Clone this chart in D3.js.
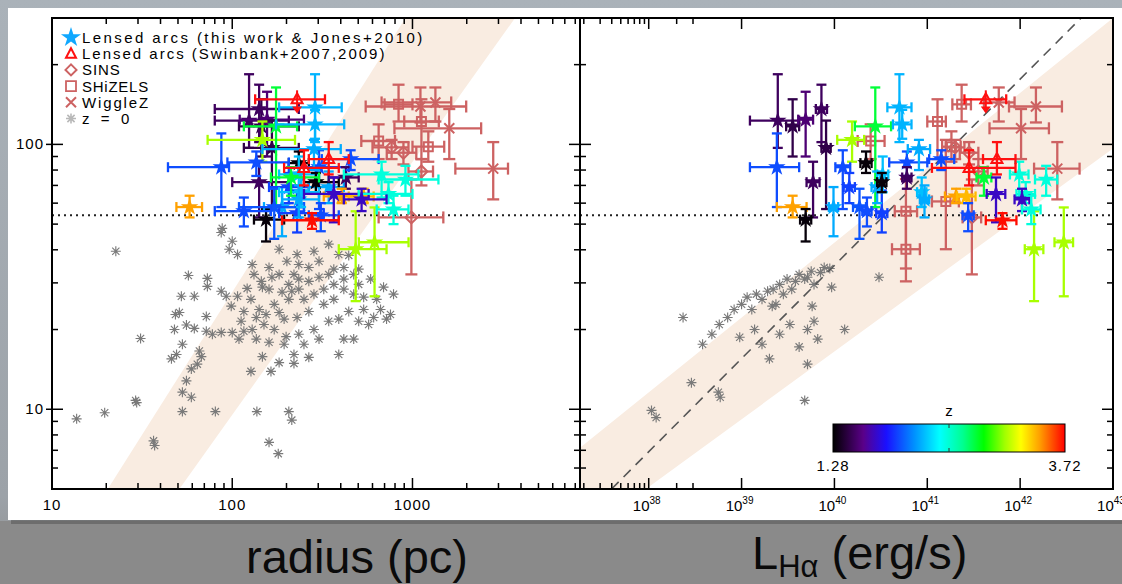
<!DOCTYPE html>
<html><head><meta charset="utf-8">
<script src="https://cdn.jsdelivr.net/npm/d3@7"></script>
<style>html,body{margin:0;padding:0;background:#8c8c8c;}svg{display:block}</style>
</head><body><svg id="c" width="1122" height="584"></svg>
<script>
// ---------------- DATA ----------------
// Lensed arcs: [z, sigma, sigmaLo, sigmaHi, radius(pc), radiusLo, radiusHi, logL, logLLo, logLHi]
const lensedArcs = [
 [1.50,123,97,184,124,80,206,39.39,39.09,39.62],
 [1.45,117,90,148,145,109,234,39.55,39.48,39.62],
 [1.55,124,90,158,156,110,250,39.69,39.61,39.77],
 [1.50,136,102,168,141,80,234,39.86,39.80,39.92],
 [1.45,97,57,123,166,116,234,39.91,39.86,39.96],
 [1.50,72,53,86,141,100,206,39.77,39.70,39.84],
 [1.98,82,58,110,87,44,96,39.38,39.09,39.62],
 [3.45,58,53,64,58,49,68,39.55,39.38,39.70],
 [1.30,52,43,57,154,132,194,39.69,39.63,39.75],
 [3.10,104,86,122,147,73,223,40.19,40.03,40.32],
 [1.30,85,78,94,234,206,266,40.34,40.28,40.40],
 [2.78,117,58,164,175,116,229,40.44,40.22,40.61],
 [2.20,58,45,69,189,150,250,39.99,39.94,40.04],
 [1.98,82,57,95,303,206,443,40.09,40.01,40.17],
 [1.95,69,60,78,206,160,266,40.16,40.10,40.22],
 [2.00,58,44,68,171,109,250,40.27,40.20,40.34],
 [1.98,56,49,63,116,80,164,40.35,40.30,40.40],
 [1.95,55,46.5,67,229,182,322,40.51,40.45,40.57],
 [2.20,69,60,79,343,266,416,40.46,40.40,40.52],
 [2.25,77,66,90,234,182,303,40.52,40.46,40.58],
 [1.30,72,66,78,291,250,390,40.51,40.46,40.56],
 [2.22,138,102,184,288,182,405,40.70,40.57,40.83],
 [2.22,119,105,135,288,175,418,40.73,40.63,40.83],
 [1.98,85.5,76,94,136,94,206,40.78,40.59,41.00],
 [1.50,75,68,82,427,343,503,40.78,40.73,40.83],
 [2.20,96,80,104,284,147,400,40.91,40.79,41.03],
 [2.25,66,58,75,241,182,303,40.94,40.89,40.99],
 [2.20,62,53,70,234,189,303,40.97,40.92,41.02],
 [1.98,88,80,95,454,314,649,41.15,41.02,41.29],
 [3.45,63.6,60,68,405,322,503,41.31,41.19,41.43],
 [3.40,63.6,60,68,536,443,609,41.42,41.32,41.52],
 [1.98,54,47,60,310,266,390,41.44,41.38,41.50],
 [2.78,75,64,82,212,164,303,41.61,41.53,41.69],
 [1.72,65,50.8,75,366,250,571,41.74,41.64,41.84],
 [3.70,51.7,48,55,277,189,390,41.81,41.63,41.96],
 [2.48,77,63,86,674,416,1079,41.99,41.89,42.09],
 [2.48,65,60,72,736,503,1000,42.06,41.96,42.16],
 [2.48,73.7,64,83,914,649,1393,42.28,42.16,42.40],
 [3.10,40.2,25.6,55.9,484,390,718,42.15,42.05,42.25],
 [3.10,42.7,26.7,57.8,616,504,951,42.47,42.37,42.57],
 [1.72,62,56,68,522,416,718,42.02,41.94,42.10],
 [2.48,56.8,50,64,785,633,950,42.12,42.02,42.22]
];
// Swinbank arcs: [sigma, lo, hi, radius, rLo, rHi, logL, lLo, lHi, isLimit]
const swinbankArcs = [
 [148,133,160,229,134,327,41.63,41.40,41.85,1],
 [81.5,70,95,250,194,390,41.45,41.05,41.95,0],
 [88,77,102,343,266,443,41.75,41.60,41.95,0]
];
// SINS: [sigma, lo, hi, radius, rLo, rHi, logL, lLo, lHi]
const sins = [
 [97.4,88,104,766,600,950,41.30,41.20,41.40],
 [93,84,102,891,720,1050,41.45,41.35,41.55],
 [53,32.3,73.7,986,649,1483,41.48,41.38,41.58],
 [79,70,88,1121,950,1300,41.55,41.45,41.65]
];
// SHiZELS: [sigma, lo, hi, radius, rLo, rHi, logL, lLo, lHi]
const shizels = [
 [141.6,122,168,837,700,1000,41.37,41.27,41.47],
 [122,88,148,1121,900,1400,41.11,41.00,41.20],
 [103,88,119,649,520,800,40.39,40.25,40.54],
 [55.9,34,74,null,null,null,40.77,40.65,40.89],
 [40.2,30.4,55.9,null,null,null,40.77,40.62,40.92],
 [60.9,40.2,104,null,null,null,41.20,41.05,41.34],
 [98,86,112,1224,1000,1500,41.26,41.16,41.36]
];
// WiggleZ: [sigma, lo, hi, radius, rLo, rHi, logL, lLo, lHi]
const wigglez = [
 [139,121,164,1107,550,1986,42.17,41.88,42.45],
 [144,122,164,1340,674,1640,41.77,41.61,41.94],
 [115,88,136,1600,794,2404,42.01,41.67,42.31],
 [81,62,102,2805,1729,3388,42.40,42.15,42.64]
];
// z = 0 sample: [radius, sigma]
const z0Radius = [[22.6,39.5],[57.1,32.0],[72.8,31.2],[72.8,29.1],[52.2,26.7],[61.6,26.7],[86.9,27.9],[92.6,26.7],[107,26.7],[98.7,24.5],[48.4,22.8],[50.9,23.2],[55.7,20.8],[47.8,20.0],[71.8,22.4],[61.6,20.2],[71.8,19.7],[77.6,19.2],[86.9,19.5],[100,19.5],[116,19.7],[129,20.0],[52.9,17.6],[49.1,16.1],[46.0,15.5],[65.7,16.6],[67.4,15.8],[59.3,14.2],[64.0,14.8],[55.7,12.8],[52.9,11.6],[59.3,11.1],[31.0,18.5],[29.1,10.8],[36.6,7.6],[88.0,48.2],[86.9,46.5],[100,43.1],[96.2,40.2],[107,38.4],[129,35.2],[132,32.3],[166,31.5],[201,36.2],[121,28.6],[147,28.9],[160,28.4],[189,27.7],[214,27.9],[141,23.8],[154,22.8],[182,23.2],[206,26.0],[136,22.2],[109,18.4],[136,18.4],[160,17.9],[199,18.8],[147,15.8],[182,15.0],[220,14.9],[127,13.9],[164,13.9],[13.7,9.2],[19.6,9.7],[29.5,10.6],[37.1,7.3],[52.9,9.8],[80.6,9.8],[137,9.8],[206,9.8],[214,9.1],[160,7.5],[180,6.8],[234,35.2],[266,34.3],[303,36.2],[366,33.8],[416,34.3],[472,32.3],[586,31.0],[691,28.9],[785,27.2],[633,26.0],[536,23.8],[443,23.4],[390,21.9],[343,21.5],[284,20.0],[234,19.2],[250,17.6],[303,18.4],[416,18.4],[503,21.5],[609,22.2],[718,21.9],[250,26.0],[284,27.2],[322,28.4],[366,29.6],[416,28.4],[472,27.2],[322,24.9],[366,26.0],[266,23.4],[229,22.2],[194,21.9],[234,31.0],[206,29.6],[266,30.4],[303,31.5],[343,32.3],[416,31.0],[503,29.6],[182,32.3],[160,34.3],[145,30.4],[171,24.9],[127,26.0],[116,23.4],[112,21.5],[150,20.9],[171,20.0],[194,17.6],[220,16.1],[266,15.7],[390,16.1],[472,18.4],[571,20.9],[665,23.8],[755,22.8],[503,33.8],[443,38.1],[390,38.4],[284,39.5],[343,42.0],[229,38.4],[182,40.2],[536,26.5],[234,28.4],[220,32.3]];
// z = 0 sample: [logL, sigma]
const z0Lum = [[38.03,9.9],[38.08,9.3],[38.37,22.2],[38.46,12.6],[38.75,11.6],[38.77,11.1],[39.68,10.8],[38.58,17.6],[38.68,19.2],[38.76,20.9],[38.85,22.2],[38.92,23.8],[39.00,24.9],[39.06,26.5],[39.11,23.8],[39.16,27.2],[39.22,26.0],[39.28,27.9],[39.34,28.4],[39.37,24.9],[39.41,29.6],[39.45,27.2],[39.49,31.0],[39.54,28.4],[39.58,30.4],[39.62,32.3],[39.68,31.0],[39.71,31.5],[39.75,33.2],[39.78,29.6],[39.85,32.8],[39.89,34.3],[39.95,34.0],[39.97,28.9],[38.98,18.7],[39.14,20.0],[39.22,17.6],[39.30,15.5],[39.41,19.2],[39.52,20.9],[39.62,17.2],[39.71,20.0],[39.78,21.5],[39.82,18.4],[39.71,14.8],[39.33,24.5],[39.76,24.5],[40.48,31.5],[40.11,20.0]];
// Shaded relation bands (edges, data coords)
const bandRadius = [[20.4,5],[914,300],[3707,300],[50.9,5]];
const bandLum = [[37.0,5.4],[37.27,7.2],[43.0,300],[43.2,300],[43.2,98.3],[43.03,98.3],[37.97,5],[37.0,5]];
const dashedLum = [[37.6,5],[42.656,300]];
const sigmaThreshold = 54;
// ticks
const yMajor = [10,100], yMinor = [6,7,8,9,20,30,40,50,60,70,80,90,200,300];
const rMajor = [10,100,1000], rMinor = [20,30,40,50,60,70,80,90,200,300,400,500,600,700,800,900,2000,3000,4000,5000,6000,7000,8000];
const lMajor = [38,39,40,41,42,43];
const lMinor = [37.301,37.477,37.602,37.699,37.778,37.845,37.903,37.954,38.301,38.477];
const legendLabels = ['Lensed arcs (this work & Jones+2010)','Lensed arcs (Swinbank+2007,2009)','SINS','SHiZELS','WiggleZ','z = 0'];
const zRange = [1.28, 3.72];
const cmapStops = [[0,'#000000'],[0.13,'#5a0088'],[0.23,'#1a10ff'],[0.35,'#0090ff'],[0.46,'#00ffff'],[0.56,'#00ff90'],[0.65,'#00ff00'],[0.74,'#a0ff00'],[0.81,'#ffff00'],[0.89,'#ffa000'],[1,'#ff0000']];

// ---------------- DRAW ----------------
const W=1122,H=584, TOP=18, BOT=489, L0=52, MID=580, R1=1113;
const svg=d3.select('#c');
const defs=svg.append('defs');
const bg=defs.append('linearGradient').attr('id','bg').attr('x1',0).attr('y1',0).attr('x2',0).attr('y2',1);
bg.append('stop').attr('offset','0%').attr('stop-color','#aab2b9');
bg.append('stop').attr('offset','85%').attr('stop-color','#9ca2a8');
bg.append('stop').attr('offset','100%').attr('stop-color','#8e8e8e');
svg.append('rect').attr('width',W).attr('height',H).attr('fill','url(#bg)');
svg.append('rect').attr('x',0).attr('y',521).attr('width',W).attr('height',63).attr('fill','#8a8a8a');
svg.append('rect').attr('x',11).attr('y',12).attr('width',W).attr('height',512).attr('fill','#555').attr('opacity',0.55);
svg.append('rect').attr('x',8).attr('y',8).attr('width',W).attr('height',512).attr('fill','#fff');

const y=d3.scaleLog().domain([5,300]).range([BOT,TOP]);
const xL=d3.scaleLog().domain([10,8500]).range([L0,MID]);
const xR=d3.scaleLog().domain([Math.pow(10,37.26),1e43]).range([MID,R1]);
const Lx = v=>xR(Math.pow(10,v));
const zc=d3.scaleLinear().domain(cmapStops.map(s=>zRange[0]+s[0]*(zRange[1]-zRange[0]))).range(cmapStops.map(s=>s[1])).interpolate(d3.interpolateRgb).clamp(true);

defs.append('clipPath').attr('id','cl').append('rect').attr('x',L0).attr('y',TOP).attr('width',MID-L0).attr('height',BOT-TOP);
defs.append('clipPath').attr('id','cr').append('rect').attr('x',MID).attr('y',TOP).attr('width',R1-MID).attr('height',BOT-TOP);
const gL=svg.append('g').attr('clip-path','url(#cl)');
const gR=svg.append('g').attr('clip-path','url(#cr)');

const BAND='#f9ece1';
gL.append('path').attr('d',d3.line().x(d=>xL(d[0])).y(d=>y(d[1]))(bandRadius)+'Z').attr('fill',BAND);
gR.append('path').attr('d',d3.line().x(d=>Lx(d[0])).y(d=>y(d[1]))(bandLum)+'Z').attr('fill',BAND);

const ast='M-5,0H5M0,-5V5M-3.6,-3.6L3.6,3.6M-3.6,3.6L3.6,-3.6';
gL.selectAll('path.a').data(z0Radius).join('path').attr('class','a').attr('d',ast)
  .attr('transform',d=>`translate(${xL(d[0])},${y(d[1])})`).attr('stroke','#7a7a7a').attr('stroke-width',1.15).attr('fill','none');
gR.selectAll('path.a').data(z0Lum).join('path').attr('class','a').attr('d',ast)
  .attr('transform',d=>`translate(${Lx(d[0])},${y(d[1])})`).attr('stroke','#7a7a7a').attr('stroke-width',1.15).attr('fill','none');

// dotted threshold
[[gL,L0,MID],[gR,MID,R1]].forEach(([g,a,b])=>g.append('line').attr('x1',a).attr('x2',b).attr('y1',y(sigmaThreshold)).attr('y2',y(sigmaThreshold))
  .attr('stroke','#222').attr('stroke-width',2).attr('stroke-dasharray','2,4'));
// dashed line
gR.append('line').attr('x1',Lx(dashedLum[0][0])).attr('y1',y(dashedLum[0][1])).attr('x2',Lx(dashedLum[1][0])).attr('y2',y(dashedLum[1][1]))
  .attr('stroke','#555').attr('stroke-width',1.6).attr('stroke-dasharray','10,7');

function errb(g,cx,cy,x0,x1,y0,y1,color,cap){
  cap=cap||5;
  const e=g.append('g').attr('stroke',color).attr('stroke-width',2.3).attr('fill','none');
  if(x0!=null){
    e.append('line').attr('x1',x0).attr('x2',x1).attr('y1',cy).attr('y2',cy);
    [x0,x1].forEach(x=>e.append('line').attr('x1',x).attr('x2',x).attr('y1',cy-cap).attr('y2',cy+cap));
  }
  if(y0!=null){
    e.append('line').attr('x1',cx).attr('x2',cx).attr('y1',y0).attr('y2',y1);
    [y0,y1].forEach(v=>e.append('line').attr('x1',cx-cap).attr('x2',cx+cap).attr('y1',v).attr('y2',v));
  }
}
const IR='#cd6262';
const sqPath='M-4.5,-4.5H4.5V4.5H-4.5Z', diaPath='M0,-6L6,0L0,6L-6,0Z', xPath='M-5,-5L5,5M-5,5L5,-5', triPath='M0,-6L5.5,4L-5.5,4Z';
function other(list,path){
  list.forEach(d=>{
    if(d[3]!=null){
      const cx=xL(d[3]),cy=y(d[0]);
      errb(gL,cx,cy,xL(d[4]),xL(d[5]),y(d[2]),y(d[1]),IR,6);
      gL.append('path').attr('d',path).attr('transform',`translate(${cx},${cy})`).attr('stroke',IR).attr('stroke-width',2).attr('fill','none');
    }
    const cx=Lx(d[6]),cy=y(d[0]);
    errb(gR,cx,cy,Lx(d[7]),Lx(d[8]),y(d[2]),y(d[1]),IR,6);
    gR.append('path').attr('d',path).attr('transform',`translate(${cx},${cy})`).attr('stroke',IR).attr('stroke-width',2).attr('fill','none');
  });
}
other(wigglez,xPath);
other(shizels,sqPath);
other(sins,diaPath);

const star=d3.symbol(d3.symbolStar,95)();
lensedArcs.forEach(d=>{
  const c=zc(d[0]);
  let cx=xL(d[4]),cy=y(d[1]);
  errb(gL,cx,cy,xL(d[5]),xL(d[6]),y(d[3]),y(d[2]),c);
  gL.append('path').attr('d',star).attr('transform',`translate(${cx},${cy})`).attr('fill',c);
  cx=Lx(d[7]);
  errb(gR,cx,cy,Lx(d[8]),Lx(d[9]),y(d[3]),y(d[2]),c);
  gR.append('path').attr('d',star).attr('transform',`translate(${cx},${cy})`).attr('fill',c);
});
const RED='#ff1010';
swinbankArcs.forEach(d=>{
  [[gL,xL(d[3]),xL(d[4]),xL(d[5])],[gR,Lx(d[6]),Lx(d[7]),Lx(d[8])]].forEach(([g,cx,a,b])=>{
    const cy=y(d[0]);
    if(d[9]){
      errb(g,cx,cy,a,b,null,null,RED);
      g.append('line').attr('x1',cx).attr('x2',cx).attr('y1',y(d[2])).attr('y2',y(d[1])).attr('stroke',RED).attr('stroke-width',2);
      g.append('path').attr('d',`M${cx-5},${y(d[1])-5}L${cx+5},${y(d[1])-5}L${cx},${y(d[1])+2}Z`).attr('fill',RED);
    } else errb(g,cx,cy,a,b,y(d[2]),y(d[1]),RED);
    g.append('path').attr('d',triPath).attr('transform',`translate(${cx},${cy})`).attr('stroke',RED).attr('stroke-width',2).attr('fill','none');
  });
});

// frames & ticks
const ax=svg.append('g').attr('stroke','#000').attr('fill','none');
ax.append('rect').attr('x',L0).attr('y',TOP).attr('width',R1-L0).attr('height',BOT-TOP).attr('stroke-width',2);
ax.append('line').attr('x1',MID).attr('x2',MID).attr('y1',TOP).attr('y2',BOT).attr('stroke-width',2);
function xt(vals,f,len){vals.forEach(v=>{const x=f(v);
  ax.append('line').attr('x1',x).attr('x2',x).attr('y1',BOT).attr('y2',BOT-len).attr('stroke-width',1.5);
  ax.append('line').attr('x1',x).attr('x2',x).attr('y1',TOP).attr('y2',TOP+len).attr('stroke-width',1.5);});}
xt(rMajor,xL,11); xt(rMinor,xL,6); xt(lMajor,Lx,11); xt(lMinor,Lx,6);
function yt(x0,dir){yMajor.forEach(v=>ax.append('line').attr('x1',x0).attr('x2',x0+dir*11).attr('y1',y(v)).attr('y2',y(v)).attr('stroke-width',1.5));
  yMinor.forEach(v=>ax.append('line').attr('x1',x0).attr('x2',x0+dir*6).attr('y1',y(v)).attr('y2',y(v)).attr('stroke-width',1.5));}
yt(L0,1); yt(MID,-1); yt(MID,1); yt(R1,-1);
yMajor.forEach(v=>ax.append('line').attr('x1',L0).attr('x2',L0-6).attr('y1',y(v)).attr('y2',y(v)).attr('stroke-width',1.5));

const FONT='"Liberation Sans", Arial, sans-serif';
const tl=svg.append('g').attr('font-family',FONT).attr('fill','#000');
yMajor.forEach(v=>tl.append('text').attr('x',44).attr('y',y(v)+5).attr('text-anchor','end').attr('font-size',15).attr('letter-spacing',1).text(d3.format('d')(v)));
rMajor.forEach(v=>tl.append('text').attr('x',xL(v)).attr('y',510).attr('text-anchor','middle').attr('font-size',15).attr('letter-spacing',1).text(d3.format('d')(v)));
lMajor.forEach(v=>{const t=tl.append('text').attr('x',Lx(v)-2).attr('y',511).attr('text-anchor','middle').attr('font-size',15);
  t.append('tspan').text('10'); t.append('tspan').attr('font-size',10).attr('dy',-7).text(v);});

// legend
const lg=svg.append('g').attr('font-family',FONT);
const syms=[
 g=>g.append('path').attr('d',d3.symbol(d3.symbolStar,125)()).attr('fill','#10a8ff'),
 g=>g.append('path').attr('d','M0,-5.5L5,4L-5,4Z').attr('stroke',RED).attr('stroke-width',2).attr('fill','none'),
 g=>g.append('path').attr('d','M0,-5.5L5.5,0L0,5.5L-5.5,0Z').attr('stroke',IR).attr('stroke-width',2).attr('fill','none'),
 g=>g.append('path').attr('d','M-5,-5H5V5H-5Z').attr('stroke',IR).attr('stroke-width',1.8).attr('fill','none'),
 g=>g.append('path').attr('d','M-5,-5L5,5M-5,5L5,-5').attr('stroke',IR).attr('stroke-width',2).attr('fill','none'),
 g=>g.append('path').attr('d',ast).attr('stroke','#b8b8b8').attr('stroke-width',1.6).attr('fill','none')
];
legendLabels.forEach((t,i)=>{
  const yy=37.5+i*16.2;
  syms[i](lg.append('g').attr('transform',`translate(71,${yy})`));
  lg.append('text').attr('x',82).attr('y',yy+5.5).attr('font-size',15).attr('textLength',t.length*9.45).attr('lengthAdjust','spacing').text(t);
});

// colorbar
const cg=defs.append('linearGradient').attr('id','cmap');
cmapStops.forEach(s=>cg.append('stop').attr('offset',(s[0]*100)+'%').attr('stop-color',s[1]));
svg.append('rect').attr('x',833).attr('y',424).attr('width',232).attr('height',28).attr('fill','url(#cmap)').attr('stroke','#000').attr('stroke-width',1);
svg.append('line').attr('x1',949).attr('x2',949).attr('y1',424).attr('y2',428).attr('stroke','#333');
svg.append('line').attr('x1',949).attr('x2',949).attr('y1',448).attr('y2',452).attr('stroke','#333');
const cbl=svg.append('g').attr('font-family',FONT).attr('font-size',15).attr('text-anchor','middle');
cbl.append('text').attr('x',949).attr('y',416).text('z');
cbl.append('text').attr('x',833).attr('y',471).attr('letter-spacing',1).text(zRange[0].toFixed(2));
cbl.append('text').attr('x',1065).attr('y',471).attr('letter-spacing',1).text(zRange[1].toFixed(2));

// big axis titles
const tt=svg.append('g').attr('font-family',FONT).attr('fill','#0a0a0a');
tt.append('text').attr('x',357).attr('y',573).attr('text-anchor','middle').attr('font-size',47).text('radius (pc)');
const t2=tt.append('text').attr('x',752).attr('y',569).attr('font-size',47);
t2.append('tspan').text('L');
t2.append('tspan').attr('font-size',31).attr('dy',8).text('Hα');
t2.append('tspan').attr('dy',-8).text(' (erg/s)');
</script></body></html>
